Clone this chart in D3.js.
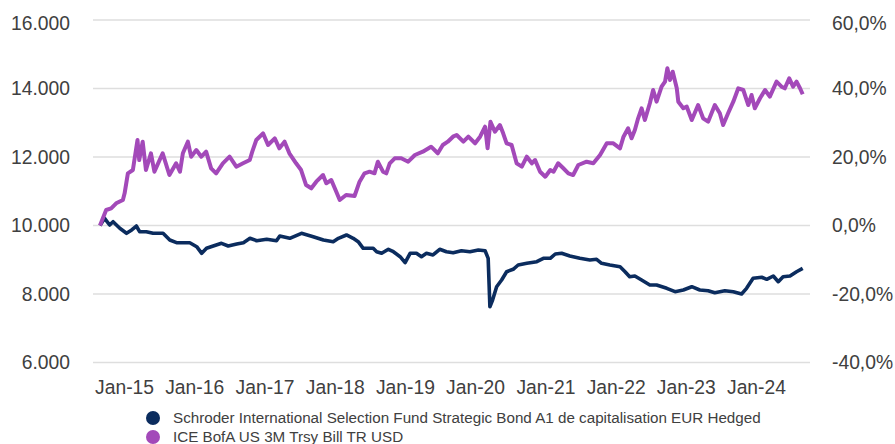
<!DOCTYPE html>
<html>
<head>
<meta charset="utf-8">
<script src="https://cdn.jsdelivr.net/npm/d3@7"></script>
<style>
  body { margin: 0; background: #fff; }
  svg { display: block; font-family: "Liberation Sans", Arial, sans-serif; }
</style>
</head>
<body>
<div id="chart"></div>
<script>
// fund (navy) - growth of 10.000
var fundDates = ["2014-08-29","2014-09-22","2014-10-18","2014-11-05","2014-12-10","2015-01-14","2015-02-10","2015-03-06","2015-03-23","2015-04-27",
  "2015-06-01","2015-07-23","2015-08-27","2015-10-01","2015-12-09","2016-01-14","2016-02-09","2016-03-05","2016-04-09","2016-05-22",
  "2016-06-26","2016-08-09","2016-09-13","2016-10-17","2016-11-21","2017-01-12","2017-03-04","2017-03-21","2017-05-12","2017-07-12",
  "2017-09-11","2017-11-03","2017-12-24","2018-01-20","2018-03-03","2018-04-07","2018-05-03","2018-05-29","2018-07-20","2018-08-07",
  "2018-09-02","2018-10-07","2018-11-02","2018-12-07","2019-01-02","2019-01-28","2019-03-02","2019-03-28","2019-04-23","2019-05-27",
  "2019-07-01","2019-08-05","2019-09-09","2019-10-22","2019-12-05","2020-01-18","2020-02-22","2020-03-09","2020-03-18","2020-04-01",
  "2020-04-22","2020-05-18","2020-06-13","2020-07-17","2020-08-12","2020-09-26","2020-11-17","2020-12-21","2021-01-26","2021-02-21",
  "2021-03-26","2021-05-08","2021-06-29","2021-08-20","2021-09-24","2021-10-20","2021-12-02","2022-01-24","2022-02-19","2022-03-15",
  "2022-04-11","2022-05-16","2022-06-28","2022-08-02","2022-09-24","2022-11-06","2022-12-19","2023-02-01","2023-03-15","2023-04-27",
  "2023-06-01","2023-07-23","2023-09-05","2023-10-18","2023-11-13","2023-12-17","2024-01-31","2024-02-26","2024-03-31","2024-04-26",
  "2024-05-21","2024-06-26","2024-07-30","2024-08-31"];
var fundValues = [10000,10210,10015,10111,9918,9772,9869,9985,9819,9819,
  9772,9772,9577,9498,9498,9381,9188,9334,9402,9480,
  9402,9460,9498,9626,9556,9597,9556,9693,9626,9772,
  9673,9577,9527,9626,9723,9626,9527,9334,9334,9235,
  9188,9305,9235,9089,8914,9188,9188,9089,9188,9139,
  9305,9235,9206,9264,9235,9285,9264,9042,7629,7825,
  8213,8409,8651,8721,8847,8896,8943,9042,9042,9168,
  9188,9110,9042,8993,9013,8896,8847,8797,8651,8505,
  8526,8409,8263,8263,8166,8067,8117,8213,8117,8096,
  8038,8096,8067,8000,8166,8458,8488,8429,8526,8359,
  8505,8526,8651,8750];

// benchmark (purple)
var indexDates = ["2014-08-29","2014-09-30","2014-10-26","2014-11-21","2014-12-26","2015-01-04","2015-01-21","2015-02-16","2015-03-12","2015-03-21",
  "2015-04-08","2015-04-25","2015-05-21","2015-06-08","2015-07-21","2015-08-25","2015-09-29","2015-10-19","2015-11-03","2015-11-29",
  "2015-12-16","2016-01-12","2016-02-07","2016-03-03","2016-03-29","2016-04-24","2016-05-29","2016-07-03","2016-08-07","2016-09-11",
  "2016-10-16","2016-10-29","2016-11-19","2016-12-24","2017-01-19","2017-02-23","2017-03-19","2017-04-15","2017-05-10","2017-06-14",
  "2017-07-10","2017-08-05","2017-09-01","2017-09-27","2017-11-01","2017-11-18","2017-12-14","2018-01-09","2018-01-27","2018-03-01",
  "2018-04-14","2018-05-10","2018-06-05","2018-07-01","2018-07-27","2018-08-13","2018-09-09","2018-09-26","2018-10-14","2018-11-09",
  "2018-12-13","2019-01-18","2019-02-22","2019-04-04","2019-05-17","2019-06-21","2019-07-17","2019-08-12","2019-09-08","2019-09-27",
  "2019-11-01","2019-11-27","2020-01-01","2020-01-27","2020-02-22","2020-03-06","2020-03-21","2020-04-13","2020-05-09","2020-05-26",
  "2020-06-13","2020-07-09","2020-08-04","2020-08-31","2020-09-26","2020-10-22","2020-11-08","2020-12-04","2020-12-31","2021-01-26",
  "2021-02-12","2021-03-08","2021-04-04","2021-04-30","2021-05-25","2021-06-21","2021-08-03","2021-09-07","2021-10-12","2021-11-16",
  "2021-12-20","2022-01-24","2022-02-11","2022-03-07","2022-03-25","2022-04-11","2022-04-28","2022-05-16","2022-06-02","2022-06-28",
  "2022-07-15","2022-08-02","2022-08-28","2022-09-15","2022-09-27","2022-10-11","2022-10-25","2022-11-15","2022-11-23","2022-12-19",
  "2023-01-06","2023-02-01","2023-03-06","2023-04-01","2023-04-27","2023-06-01","2023-06-27","2023-07-14","2023-08-09","2023-09-05",
  "2023-10-01","2023-10-27","2023-11-22","2023-12-09","2023-12-26","2024-01-22","2024-02-17","2024-03-13","2024-04-17","2024-05-13",
  "2024-05-30","2024-06-22","2024-07-12","2024-07-30","2024-08-17","2024-08-31"];
var indexValues = [10000,10453,10502,10648,10745,10940,11524,11620,12496,11912,
  12447,11620,12108,11571,12108,11474,11816,11571,12108,12447,
  12009,12204,12009,12155,11670,11524,11816,12009,11717,11816,
  11912,12155,12496,12692,12350,12546,12254,12447,12108,11816,
  11620,11182,11086,11279,11474,11232,11328,10987,10745,10891,
  10861,11279,11524,11571,11524,11863,11571,11524,11816,11962,
  11962,11863,12058,12155,12301,12108,12350,12447,12593,12642,
  12447,12593,12400,12593,12885,12254,13031,12739,12934,12692,
  12400,12350,11816,11717,12009,11816,11912,11571,11425,11620,
  11571,11816,11670,11524,11474,11766,11863,11816,12058,12400,
  12400,12254,12593,12838,12546,12788,13130,13422,13080,13568,
  13956,13615,14053,14199,14590,14248,14490,14006,13615,13422,
  13469,13080,13518,13130,13031,13518,13276,12934,13276,13615,
  14006,13956,13518,13810,13422,13714,13956,13761,14199,14053,
  14006,14298,14053,14199,14006,13831];

var leftTicks = [6000, 8000, 10000, 12000, 14000, 16000];
var rightTicks = [-0.4, -0.2, 0, 0.2, 0.4, 0.6];
var yearTicks = ["2015-01-01","2016-01-01","2017-01-01","2018-01-01","2019-01-01","2020-01-01","2021-01-01","2022-01-01","2023-01-01","2024-01-01"];
var seriesNames = ["Schroder International Selection Fund Strategic Bond A1 de capitalisation EUR Hedged", "ICE BofA US 3M Trsy Bill TR USD"];
var seriesColors = ["#0b2c5e", "#a349b9"];

var width = 895, height = 444;
var parse = d3.timeParse("%Y-%m-%d");

// european number format: 16.000 / 60,0%
var locale = d3.formatLocale({decimal: ",", thousands: ".", grouping: [3], currency: ["", " €"], minus: "-"});
var fmtLeft = locale.format(",.0f");
var fmtRight = locale.format(".1%");

var svg = d3.select("#chart").append("svg")
    .attr("width", width)
    .attr("height", height);

var gridLeft = 93, gridRight = 810;

var x = d3.scaleTime()
    .domain([parse("2014-08-29"), parse("2024-08-31")])
    .range([100, 802.7]);

var y = d3.scaleLinear().domain([6000, 16000]).range([362.5, 20]);
var yPct = d3.scaleLinear().domain([-0.4, 0.6]).range([362.5, 20]);

// gridlines
svg.append("g")
    .selectAll("line")
    .data(leftTicks)
    .enter().append("line")
        .attr("x1", gridLeft)
        .attr("x2", gridRight)
        .attr("y1", function(d) { return y(d); })
        .attr("y2", function(d) { return y(d); })
        .attr("stroke", "#dedede")
        .attr("stroke-width", 1.6);

var textColor = "#404040";

var yAxisL = svg.append("g")
    .attr("transform", "translate(70,0)")
    .call(d3.axisLeft(y).tickValues(leftTicks).tickFormat(fmtLeft).tickSize(0).tickPadding(0));

var yAxisR = svg.append("g")
    .attr("transform", "translate(832,0)")
    .call(d3.axisRight(yPct).tickValues(rightTicks).tickFormat(fmtRight).tickSize(0).tickPadding(0));

var xAxis = svg.append("g")
    .attr("transform", "translate(0,372)")
    .call(d3.axisBottom(x).tickValues(yearTicks.map(parse)).tickFormat(d3.timeFormat("%b-%y")).tickSize(0).tickPadding(0));

[yAxisL, yAxisR, xAxis].forEach(function(ax) {
    ax.select(".domain").remove();
    ax.selectAll("text")
        .attr("fill", textColor)
        .style("font-size", "19.3px")
        .style("font-family", "'Liberation Sans', Arial, sans-serif");
});
xAxis.selectAll("text").attr("dy", "1.12em");

// top labels sit a little under their gridline
yAxisL.selectAll(".tick").filter(function(d) { return d === 16000; }).select("text").attr("y", 3.5);
yAxisR.selectAll(".tick").filter(function(d) { return d === 0.6; }).select("text").attr("y", 3.5);

var line = d3.line()
    .x(function(d) { return x(d.date); })
    .y(function(d) { return y(d.value); });

var fund = fundDates.map(function(d, i) { return {date: parse(d), value: fundValues[i]}; });
var bench = indexDates.map(function(d, i) { return {date: parse(d), value: indexValues[i]}; });

svg.append("path")
    .datum(fund)
    .attr("fill", "none")
    .attr("stroke", seriesColors[0])
    .attr("stroke-width", 3.6)
    .attr("stroke-linejoin", "round")
    .attr("d", line);

svg.append("path")
    .datum(bench)
    .attr("fill", "none")
    .attr("stroke", seriesColors[1])
    .attr("stroke-width", 4)
    .attr("stroke-linejoin", "round")
    .attr("d", line);

// legend
var legend = svg.append("g").selectAll("g")
    .data(seriesNames)
    .enter().append("g")
        .attr("transform", function(d, i) { return "translate(153," + (418 + i * 19) + ")"; });

legend.append("circle")
    .attr("r", 7)
    .attr("fill", function(d, i) { return seriesColors[i]; });

legend.append("text")
    .attr("x", 20)
    .attr("dy", "0.36em")
    .attr("fill", textColor)
    .style("font-size", "15.2px")
    .text(function(d) { return d; });
</script>
</body>
</html>
